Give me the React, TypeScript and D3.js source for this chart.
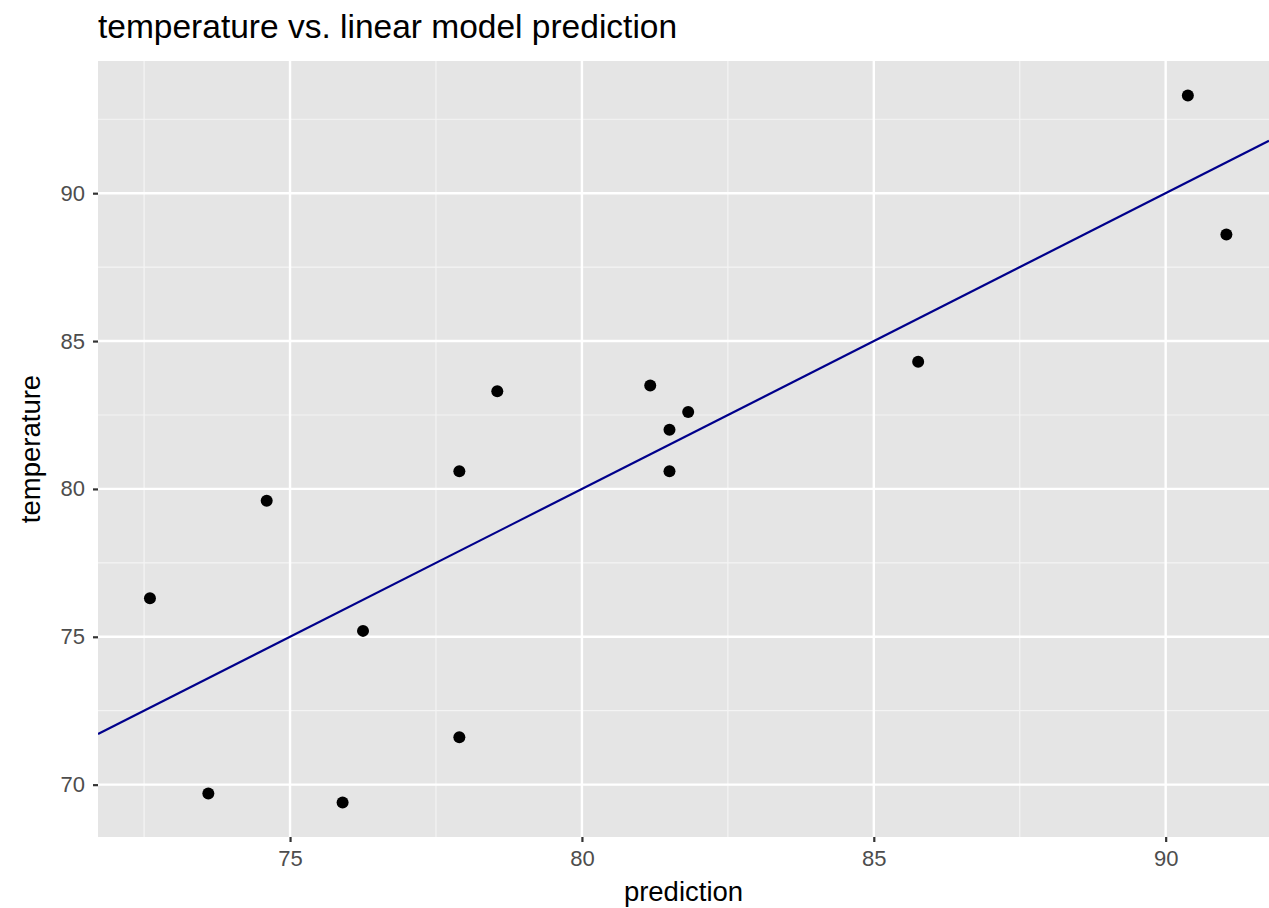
import React, { useEffect, useRef } from 'react';
import * as d3 from 'd3';

// values
const prediction = [72.6, 73.6, 74.6, 75.9, 76.25, 77.9, 77.9, 78.55, 81.17, 81.5, 81.5, 81.82, 85.76, 90.38, 91.04];
const temperature = [76.3, 69.7, 79.6, 69.4, 75.2, 80.6, 71.6, 83.3, 83.5, 82.0, 80.6, 82.6, 84.3, 93.3, 88.6];
const xTicks = [75, 80, 85, 90];
const yTicks = [70, 75, 80, 85, 90];
const xMinor = [72.5, 77.5, 82.5, 87.5];
const yMinor = [72.5, 77.5, 82.5, 87.5, 92.5];

const W = 1269;
const H = 908;
const FONT = 'Liberation Sans, Arial, sans-serif';

export default function App() {
  const ref = useRef<SVGSVGElement>(null);

  useEffect(() => {
    const svg = d3.select(ref.current);
    svg.selectAll('*').remove();

    const margin = { top: 61, right: 0, bottom: 71, left: 98 };
    const width = W - margin.left - margin.right;
    const height = H - margin.top - margin.bottom;

    const x = d3.scaleLinear().domain([71.71, 91.77]).range([0, width]);
    const y = d3.scaleLinear().domain([68.23, 94.47]).range([height, 0]);

    const g = svg.append('g')
      .attr('transform', 'translate(' + margin.left + ',' + margin.top + ')');

    g.append('rect')
      .attr('width', width)
      .attr('height', height)
      .attr('fill', '#e5e5e5');

    // minor grid
    g.selectAll('line.xminor').data(xMinor).enter().append('line')
      .attr('x1', d => x(d)).attr('x2', d => x(d))
      .attr('y1', 0).attr('y2', height)
      .attr('stroke', '#f4f4f4').attr('stroke-width', 1.2);
    g.selectAll('line.yminor').data(yMinor).enter().append('line')
      .attr('y1', d => y(d)).attr('y2', d => y(d))
      .attr('x1', 0).attr('x2', width)
      .attr('stroke', '#f4f4f4').attr('stroke-width', 1.2);

    // major grid
    g.selectAll('line.xmajor').data(xTicks).enter().append('line')
      .attr('x1', d => x(d)).attr('x2', d => x(d))
      .attr('y1', 0).attr('y2', height)
      .attr('stroke', '#fff').attr('stroke-width', 2.4);
    g.selectAll('line.ymajor').data(yTicks).enter().append('line')
      .attr('y1', d => y(d)).attr('y2', d => y(d))
      .attr('x1', 0).attr('x2', width)
      .attr('stroke', '#fff').attr('stroke-width', 2.4);

    // identity line, clipped to panel
    svg.append('clipPath').attr('id', 'panel')
      .append('rect').attr('width', width).attr('height', height);
    const [d0, d1] = x.domain();
    g.append('line')
      .attr('clip-path', 'url(#panel)')
      .attr('x1', x(d0)).attr('y1', y(d0))
      .attr('x2', x(d1)).attr('y2', y(d1))
      .attr('stroke', '#00008b').attr('stroke-width', 2.2);

    g.selectAll('circle').data(prediction).enter().append('circle')
      .attr('cx', d => x(d))
      .attr('cy', (d, i) => y(temperature[i]))
      .attr('r', 6)
      .attr('fill', '#000');

    // axes
    const xAxis = d3.axisBottom(x).tickValues(xTicks).tickSize(5).tickPadding(8);
    const yAxis = d3.axisLeft(y).tickValues(yTicks).tickSize(5).tickPadding(8);

    const xa = g.append('g')
      .attr('transform', 'translate(0,' + height + ')')
      .call(xAxis);
    const ya = g.append('g').call(yAxis);
    [xa, ya].forEach(a => {
      a.select('.domain').remove();
      a.selectAll('line').attr('stroke', '#333').attr('stroke-width', 2.2);
      a.selectAll('text')
        .attr('fill', '#4d4d4d')
        .style('font-size', '22px')
        .style('font-family', FONT);
    });

    svg.append('text')
      .attr('x', margin.left + width / 2)
      .attr('y', 901)
      .attr('text-anchor', 'middle')
      .style('font-size', '27.5px')
      .style('font-family', FONT)
      .text('prediction');

    svg.append('text')
      .attr('transform', 'translate(40,' + (margin.top + height / 2) + ') rotate(-90)')
      .attr('text-anchor', 'middle')
      .style('font-size', '27.5px')
      .style('font-family', FONT)
      .text('temperature');

    svg.append('text')
      .attr('x', margin.left)
      .attr('y', 38)
      .style('font-size', '33.5px')
      .style('font-family', FONT)
      .text('temperature vs. linear model prediction');
  }, []);

  return (
    <svg ref={ref} width={W} height={H}
      style={{ position: 'absolute', left: 0, top: 0, background: '#fff' }} />
  );
}
